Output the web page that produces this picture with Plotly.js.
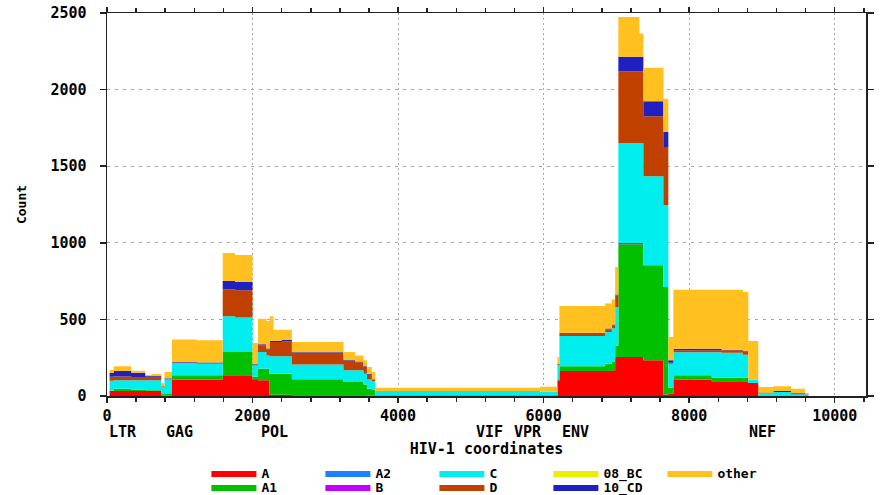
<!DOCTYPE html>
<html><head><meta charset="utf-8">
<script src="https://cdn.plot.ly/plotly-3.0.1.min.js"></script>
<style>html,body{margin:0;padding:0;background:#fff}#chart{width:882px;height:495px}</style>
</head><body><div id="chart"></div>
<script>
// segment start coordinates (HIV-1 HXB2 positions); each value holds until the next start
const positions = [0,36,91,334,526,618,746,790,893,1236,1590,1762,2000,2075,2190,2234,2289,2404,2541,3250,3410,3525,3572,3640,3686,5950,6190,6217,6845,6937,6983,7027,7316,7371,7646,7714,7783,8310,8448,8740,8813,8950,9157,9400,9592,9640];
const A     = [0,35,33,33,33,33,3,3,107,107,135,135,104,102,102,10,8,8,5,5,5,5,3,3,0,0,100,163,163,168,254,255,255,233,10,15,107,96,96,96,85,0,0,0,0,0];
const A1    = [0,0,15,8,4,4,10,10,28,28,152,152,22,76,76,136,138,138,104,86,86,70,45,38,5,5,10,31,48,54,76,735,735,620,702,39,28,24,24,24,0,0,0,0,0,0];
const A2    = [0,0,0,0,0,0,0,0,0,0,0,0,0,0,0,0,0,0,0,0,0,0,0,0,0,0,0,0,0,0,0,0,0,0,0,0,0,0,0,0,0,0,0,0,0,0];
const B     = [0,0,0,0,0,0,0,0,0,0,0,0,0,0,0,0,0,0,0,0,0,0,0,0,0,0,0,0,0,0,0,8,8,0,0,0,0,0,0,0,0,0,0,0,0,0];
const C     = [0,65,54,61,65,65,45,95,80,76,233,225,74,109,87,113,113,113,96,77,77,70,60,55,28,22,90,198,207,220,251,654,654,582,533,157,150,165,162,150,22,18,26,12,5,0];
const D     = [0,25,26,22,23,23,5,5,3,3,176,178,0,45,40,93,93,96,75,64,53,45,30,10,0,0,10,21,17,20,76,468,468,391,380,6,13,13,16,20,0,5,0,0,0,0];
const BC08  = [0,0,0,0,0,0,0,0,0,0,0,0,0,0,0,0,0,0,0,0,0,0,0,0,0,0,0,0,0,0,0,0,0,0,0,0,0,0,0,0,0,0,0,0,0,0];
const CD10  = [0,25,35,28,5,5,0,3,5,5,55,54,8,5,5,8,8,10,5,5,5,5,5,4,0,0,0,0,5,5,5,95,95,98,98,16,11,11,3,5,0,0,7,6,5,0];
const other = [0,20,31,13,9,14,20,40,145,145,182,176,138,168,180,160,73,68,67,50,39,38,46,47,21,33,44,175,164,163,180,259,151,219,218,152,385,385,393,384,252,36,30,30,10,0];

const seriesNames = ['A','A1','A2','B','C','D','08_BC','10_CD','other'];
const seriesData  = [A, A1, A2, B, C, D, BC08, CD10, other];
const seriesColors = ['#ff0000','#00c000','#1e7fff','#c000ff','#00eeee','#c04000','#eeee00','#2020c0','#ffc020'];
const legendOf = ['legend','legend2','legend','legend2','legend','legend2','legend','legend2','legend'];

const geneNames  = ['LTR','GAG','POL','VIF','VPR','ENV','NEF'];
const geneStarts = [0, 790, 2085, 5041, 5559, 6225, 8797];

const fontFam = 'DejaVu Sans Mono, monospace';
const baseFont = {family: fontFam, size: 15, color: '#000', weight: 'bold'};
const legendFont = {family: fontFam, size: 13, color: '#000', weight: 'bold'};

const traces = seriesNames.map((n, i) => ({
  type: 'scatter', mode: 'lines', name: n,
  x: positions, y: seriesData[i],
  stackgroup: 'one',
  line: {shape: 'hv', width: 0, color: seriesColors[i]},
  fillcolor: seriesColors[i],
  legend: legendOf[i],
  hoverinfo: 'skip'
}));

const annotations = geneNames.map((g, i) => ({
  text: g, x: geneStarts[i], xref: 'x', xanchor: 'left',
  y: -0.095, yref: 'paper', yanchor: 'middle',
  showarrow: false, font: baseFont
}));

const legendCommon = {
  orientation: 'h', xref: 'container', yref: 'container', x: 0.234,
  xanchor: 'left', yanchor: 'middle',
  itemwidth: 45, entrywidth: 54, entrywidthmode: 'pixels',
  traceorder: 'normal', font: legendFont, bgcolor: 'rgba(0,0,0,0)', borderwidth: 0
};

const layout = {
  width: 882, height: 495,
  margin: {l: 107, r: 16, t: 13, b: 99},
  paper_bgcolor: '#fff', plot_bgcolor: '#fff',
  showlegend: true,
  legend: Object.assign({}, legendCommon, {y: 1 - 473/495}),
  legend2: Object.assign({}, legendCommon, {y: 1 - 487/495}),
  xaxis: {
    range: [0, 10430], tick0: 0, dtick: 2000, tickformat: 'd',
    showline: true, linecolor: '#222', linewidth: 1.5, mirror: 'ticks',
    ticks: 'outside', ticklen: 5, tickcolor: '#222', tickwidth: 1.5,
    minor: {dtick: 400, tick0: 0, ticks: 'outside', ticklen: 4, tickcolor: '#222', showgrid: false},
    showgrid: true, gridcolor: '#a8a8a8', griddash: '2px,3px', gridwidth: 1,
    zeroline: false, tickfont: baseFont,
    title: {text: 'HIV-1 coordinates', font: baseFont, standoff: 41}
  },
  yaxis: {
    range: [0, 2500], tick0: 0, dtick: 500, tickformat: 'd',
    showline: true, linecolor: '#222', linewidth: 1.5, mirror: 'ticks',
    ticks: 'outside', ticklen: 6, tickcolor: '#222', tickwidth: 1.5,
    showgrid: true, gridcolor: '#a8a8a8', griddash: '3px,5px', gridwidth: 1,
    zeroline: false, tickfont: baseFont, ticklabelstandoff: 10,
    title: {text: 'Count', font: {family: fontFam, size: 13, color: '#000', weight: 'bold'}, standoff: 21}
  },
  annotations: annotations
};

Plotly.newPlot('chart', traces, layout, {displayModeBar: false, staticPlot: true});
</script>
</body></html>
